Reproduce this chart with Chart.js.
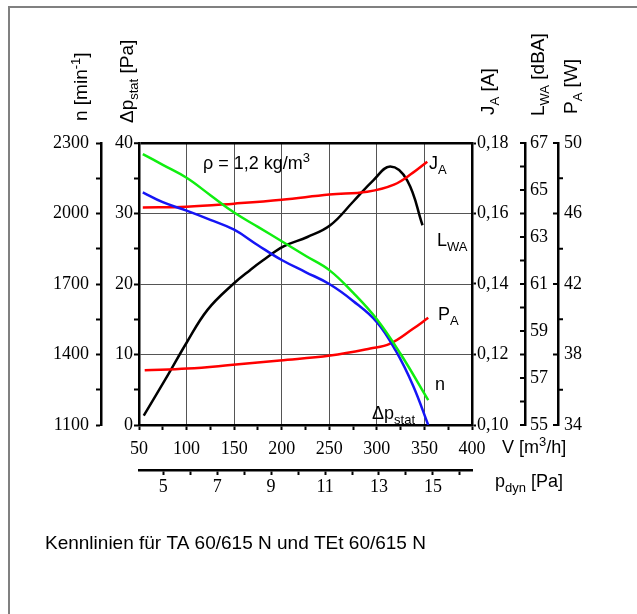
<!DOCTYPE html>
<html>
<head>
<meta charset="utf-8">
<script src="https://cdn.jsdelivr.net/npm/chart.js@4.4.1/dist/chart.umd.min.js"></script>
<style>
  html, body { margin: 0; padding: 0; background: #fff; overflow: hidden; }
  #rahmen { position: absolute; left: 8px; top: 6px; width: 700px; height: 700px;
            border-left: 2px solid #808080; border-top: 2px solid #808080; }
  #kennlinien { position: absolute; left: 0; top: 0; }
</style>
</head>
<body>
<div id="rahmen"></div>
<canvas id="kennlinien" width="637" height="614"></canvas>
<script>
// Volumenstrom V [m3/h] und Kennwerte je Kurve
var volDrehzahl = [54, 75, 100, 125, 150, 175, 200, 225, 250, 275, 300, 325, 354];
var drehzahl    = [2253, 2207, 2152, 2078, 2004, 1943, 1882, 1820, 1759, 1663, 1550, 1402, 1206];

var volDruck  = [54, 75, 100, 125, 150, 175, 200, 225, 250, 275, 300, 320, 338, 354];
var druckStat = [33.0, 31.6, 30.4, 29.1, 27.7, 25.5, 23.4, 21.7, 20.0, 17.6, 14.6, 10.5, 5.6, 0];

var volStrom = [54, 100, 150, 200, 250, 290, 318, 338, 353];
var strom    = [0.1617, 0.1619, 0.1628, 0.1639, 0.1654, 0.1662, 0.1682, 0.1716, 0.1747];

var volLeistung = [56, 101, 146, 198, 251, 293, 314, 338, 354];
var leistung    = [37.1, 37.2, 37.4, 37.66, 37.94, 38.34, 38.62, 39.46, 40.08];

var volSchall = [55, 80, 100, 122, 149, 167, 180, 202, 227, 251, 275, 296, 314, 332, 348];
var schall    = [55.4, 57.1, 58.5, 59.9, 61.0, 61.6, 62.0, 62.6, 63.0, 63.5, 64.5, 65.4, 66.0, 65.4, 63.5];

function punkte(xs, ys) {
  return xs.map(function (x, i) { return { x: x, y: ys[i] }; });
}

var serif = { family: "'Liberation Serif', 'Times New Roman', serif", size: 18 };
var sans = "'Liberation Sans', Arial, sans-serif";

function breite(w) { return function (s) { s.width = w; }; }
function hoehe(h) { return function (s) { s.height = h; }; }

// Text mit Hoch-/Tiefstellung
function richText(ctx, x, y, teile, gr) {
  var pos = x;
  teile.forEach(function (t) {
    var klein = t[1] !== '';
    ctx.font = (klein ? 13 : gr) + 'px ' + sans;
    var dy = t[1] === 'sub' ? 5 : (t[1] === 'sup' ? -7 : 0);
    ctx.fillText(t[0], pos, y + dy);
    pos += ctx.measureText(t[0]).width;
  });
}

var beschriftung = {
  id: 'beschriftung',
  afterDraw: function (chart) {
    var ctx = chart.ctx, ca = chart.chartArea, s = chart.scales;
    ctx.save();
    ctx.fillStyle = '#000';
    ctx.strokeStyle = '#000';
    ctx.textBaseline = 'alphabetic';
    ctx.textAlign = 'left';

    // Teilstriche der Achsen LWA und PA
    ctx.lineWidth = 2;
    s.yL.ticks.forEach(function (t) {
      var y = s.yL.getPixelForValue(t.value);
      ctx.beginPath(); ctx.moveTo(s.yL.left - 5, y); ctx.lineTo(s.yL.left, y); ctx.stroke();
    });
    s.yP.ticks.forEach(function (t) {
      var y = s.yP.getPixelForValue(t.value);
      var gross = (t.value - 34) % 4 === 0;
      ctx.beginPath();
      if (gross) { ctx.moveTo(s.yP.left - 5, y); ctx.lineTo(s.yP.left, y); }
      else { ctx.moveTo(s.yP.left, y); ctx.lineTo(s.yP.left + 5, y); }
      ctx.stroke();
    });

    // senkrechte Achsentitel
    var titel = [
      [s.yN.right - 14, ca.top - 22, [['n [min', ''], ['-1', 'sup'], [']', '']]],
      [ca.left - 6, ca.top - 20, [['\u0394p', ''], ['stat', 'sub'], [' [Pa]', '']]],
      [s.yJ.left + 22, ca.top - 28, [['J', ''], ['A', 'sub'], [' [A]', '']]],
      [s.yL.left + 19, ca.top - 27, [['L', ''], ['WA', 'sub'], [' [dBA]', '']]],
      [s.yP.left + 19, ca.top - 29, [['P', ''], ['A', 'sub'], [' [W]', '']]]
    ];
    titel.forEach(function (t) {
      ctx.save();
      ctx.translate(t[0], t[1]);
      ctx.rotate(-Math.PI / 2);
      richText(ctx, 0, 0, t[2], 19);
      ctx.restore();
    });

    // Kurvenbezeichnungen und Achsen unten
    var texte = [
      [64, 26, [['\u03c1 = 1,2 kg/m', ''], ['3', 'sup']], 18],
      [290, 26, [['J', ''], ['A', 'sub']], 18],
      [298, 103, [['L', ''], ['WA', 'sub']], 18],
      [299, 177, [['P', ''], ['A', 'sub']], 18],
      [296, 247, [['n', '']], 18],
      [233, 276, [['\u0394p', ''], ['stat', 'sub']], 18],
      [363, 310, [['V [m', ''], ['3', 'sup'], ['/h]', '']], 18],
      [356, 344, [['p', ''], ['dyn', 'sub'], [' [Pa]', '']], 18],
      [-94, 406, [['Kennlinien f\u00fcr TA 60/615 N und TEt 60/615 N', '']], 19]
    ];
    texte.forEach(function (t) {
      richText(ctx, ca.left + t[0], ca.top + t[1], t[2], t[3]);
    });
    ctx.restore();
  }
};

var achse = { color: '#000', width: 2.5 };
var leer = 'rgba(0,0,0,0)';

new Chart(document.getElementById('kennlinien').getContext('2d'), {
  type: 'line',
  data: {
    datasets: [
      { label: 'n', data: punkte(volDrehzahl, drehzahl), xAxisID: 'x', yAxisID: 'yN', borderColor: '#10ee10' },
      { label: 'dp stat', data: punkte(volDruck, druckStat), xAxisID: 'x', yAxisID: 'y', borderColor: '#1515f5' },
      { label: 'JA', data: punkte(volStrom, strom), xAxisID: 'x', yAxisID: 'yJ', borderColor: '#ff0000' },
      { label: 'PA', data: punkte(volLeistung, leistung), xAxisID: 'x', yAxisID: 'yP', borderColor: '#ff0000' },
      { label: 'LWA', data: punkte(volSchall, schall), xAxisID: 'x', yAxisID: 'yL', borderColor: '#000000' }
    ]
  },
  options: {
    responsive: false,
    animation: false,
    layout: { padding: { left: 40, right: 37, top: 143, bottom: 114 } },
    plugins: { legend: { display: false }, tooltip: { enabled: false } },
    elements: {
      point: { radius: 0 },
      line: { borderWidth: 2.5, tension: 0.4, fill: false }
    },
    scales: {
      x: {
        type: 'linear', position: 'bottom', weight: 0, min: 50, max: 400,
        afterFit: hoehe(45),
        border: achse,
        grid: {
          color: function (c) { var v = c.tick && c.tick.value; return (v % 50 === 0 && v > 50 && v < 400) ? '#555' : leer; },
          lineWidth: 1, tickColor: '#000', tickLength: 5, tickWidth: 2
        },
        ticks: { stepSize: 25, autoSkip: false, includeBounds: false, maxRotation: 0, padding: 8, color: '#000', font: serif,
                 callback: function (v) { return v % 50 === 0 ? v : ''; } }
      },
      xp: {
        type: 'linear', position: 'bottom', weight: 1, min: 4.1, max: 16.45,
        afterFit: hoehe(30),
        border: achse,
        grid: { drawOnChartArea: false, tickColor: '#000', tickLength: 5, tickWidth: 2 },
        ticks: { stepSize: 1, autoSkip: false, includeBounds: false, maxRotation: 0, padding: 1, color: '#000', font: serif,
                 callback: function (v) { return v % 2 === 1 ? v : ''; } }
      },
      yN: {
        type: 'linear', position: 'left', weight: 1, min: 1100, max: 2300,
        afterFit: breite(61),
        border: achse,
        grid: { drawOnChartArea: false, tickColor: '#000', tickLength: 5, tickWidth: 2 },
        ticks: { stepSize: 150, autoSkip: false, includeBounds: false, padding: 7, color: '#000', font: serif,
                 callback: function (v) { return (v - 1100) % 300 === 0 ? v : ''; } }
      },
      y: {
        type: 'linear', position: 'left', weight: 0, min: 0, max: 40,
        afterFit: breite(38),
        border: achse,
        grid: {
          color: function (c) { var v = c.tick && c.tick.value; return v === 40 ? '#000' : ((v % 10 === 0 && v > 0) ? '#555' : leer); },
          lineWidth: function (c) { return c.tick && c.tick.value === 40 ? 2.5 : 1; },
          tickColor: '#000', tickLength: 5, tickWidth: 2
        },
        ticks: { stepSize: 5, autoSkip: false, padding: 1, color: '#000', font: serif,
                 callback: function (v) { return v % 10 === 0 ? v : ''; } }
      },
      yJ: {
        type: 'linear', position: 'right', weight: 0, min: 0.10, max: 0.18,
        afterFit: breite(53),
        border: achse,
        grid: { drawOnChartArea: false, tickColor: '#000', tickLength: 4, tickWidth: 2 },
        ticks: { stepSize: 0.02, autoSkip: false, padding: 1, color: '#000', font: serif,
                 callback: function (v) { return v.toFixed(2).replace('.', ','); } }
      },
      yL: {
        type: 'linear', position: 'right', weight: 1, min: 55, max: 67,
        afterFit: breite(33),
        border: achse,
        grid: { drawOnChartArea: false, drawTicks: false },
        ticks: { stepSize: 1, autoSkip: false, padding: 5, color: '#000', font: serif,
                 callback: function (v) { return v % 2 === 1 ? v : ''; } }
      },
      yP: {
        type: 'linear', position: 'right', weight: 2, min: 34, max: 50,
        afterFit: breite(42),
        border: achse,
        grid: { drawOnChartArea: false, drawTicks: false },
        ticks: { stepSize: 2, autoSkip: false, padding: 6, color: '#000', font: serif,
                 callback: function (v) { return (v - 34) % 4 === 0 ? v : ''; } }
      }
    }
  },
  plugins: [beschriftung]
});
</script>
</body>
</html>
